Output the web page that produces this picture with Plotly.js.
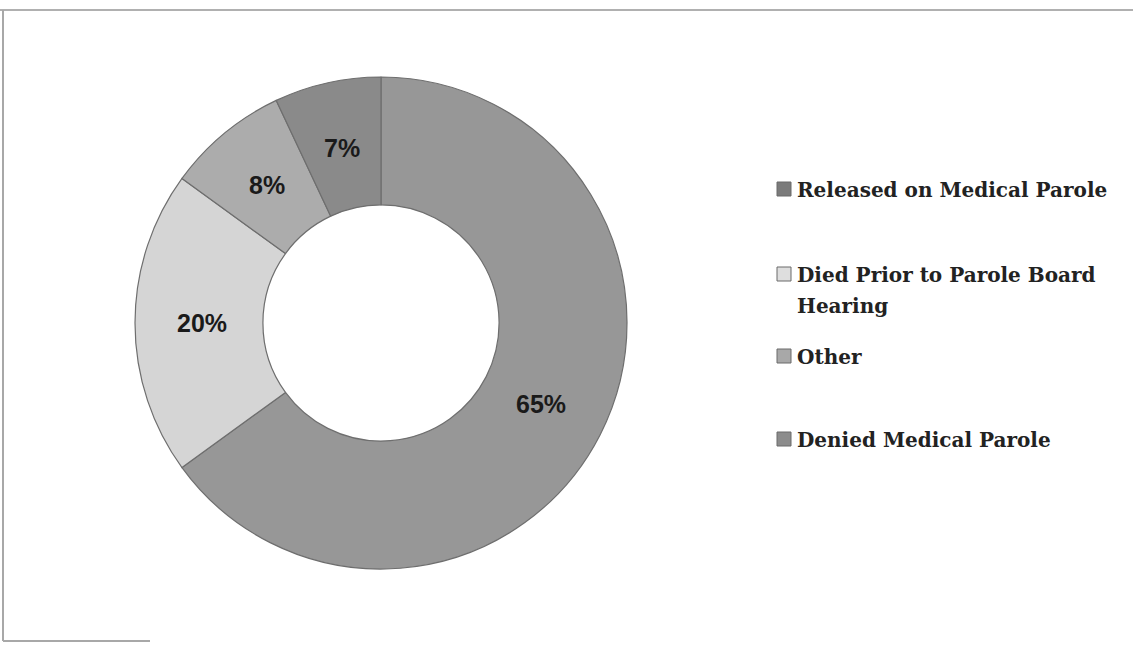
<!DOCTYPE html>
<html>
<head>
<meta charset="utf-8">
<script src="https://cdn.plot.ly/plotly-3.0.1.min.js"></script>
<style>html,body{margin:0;padding:0;background:#fff;}#chart{width:1133px;height:647px;}</style>
</head>
<body>
<div id="chart"></div>
<script>
// Slices in clockwise order starting at 12 o'clock
var sliceLabels = ["Denied Medical Parole", "Died Prior to Parole Board Hearing", "Other", "Released on Medical Parole"];
var sliceValues = [65, 20, 8, 7];
var sliceColors = ["#979797", "#d5d5d5", "#acacac", "#8a8a8a"];

// Legend order as shown in the reference
var legendLabels = ["Released on Medical Parole", "Died Prior to Parole Board", "Other", "Denied Medical Parole"];
var legendExtraLine = ["", "Hearing", "", ""];
var legendColors = ["#7b7b7b", "#dedede", "#a8a8a8", "#8c8c8c"];
var legendY = [190, 275, 357, 440];

var W = 1133, H = 647;
function px(x){return x / W;}
function py(y){return 1 - y / H;}

var cx = 381, cy = 323, R = 246, HOLE = 0.48;

var trace = {
  type: "pie",
  labels: sliceLabels,
  values: sliceValues,
  sort: false,
  direction: "clockwise",
  rotation: 0,
  hole: HOLE,
  marker: {colors: sliceColors, line: {color: "#6e6e6e", width: 1.2}},
  textinfo: "none",
  domain: {x: [px(cx - R), px(cx + R)], y: [py(cy + R), py(cy - R)]},
  showlegend: false,
  hoverinfo: "label+percent"
};

var annotations = [];
var shapes = [];

// percent labels at mid-angle, mid-radius of each slice (derived from values)
var total = sliceValues.reduce(function(a, b){return a + b;}, 0);
var acc = 0;
var rMid = R * (1 + HOLE) / 2 - 3;
for (var k = 0; k < sliceValues.length; k++) {
  var mid = (acc + sliceValues[k] / 2) / total * 2 * Math.PI;
  acc += sliceValues[k];
  var lx = cx + rMid * Math.sin(mid);
  var ly = cy - rMid * Math.cos(mid);
  annotations.push({
    xref: "paper", yref: "paper", x: px(lx), y: py(ly),
    xanchor: "center", yanchor: "middle", showarrow: false,
    text: "<b>" + Math.round(sliceValues[k] / total * 100) + "%</b>",
    font: {family: "Liberation Sans, Arial, sans-serif", size: 25, color: "#1a1a1a"}
  });
}

for (var i = 0; i < legendLabels.length; i++) {
  annotations.push({
    xref: "paper", yref: "paper",
    x: px(795), y: py(legendY[i]),
    xanchor: "left", yanchor: "middle", align: "left",
    showarrow: false,
    text: "<b>" + legendLabels[i] + "</b>",
    font: {family: "DejaVu Serif, serif", size: 20, color: "#222222"}
  });
  if (legendExtraLine[i]) {
    annotations.push({
      xref: "paper", yref: "paper",
      x: px(795), y: py(legendY[i] + 31),
      xanchor: "left", yanchor: "middle", align: "left",
      showarrow: false,
      text: "<b>" + legendExtraLine[i] + "</b>",
      font: {family: "DejaVu Serif, serif", size: 20, color: "#222222"}
    });
  }
  shapes.push({
    type: "rect", xref: "paper", yref: "paper",
    x0: px(777), x1: px(791), y0: py(legendY[i] + 6), y1: py(legendY[i] - 8),
    fillcolor: legendColors[i], line: {color: "#6a6a6a", width: 1}
  });
}
// scan frame lines
shapes.push({type: "line", xref: "paper", yref: "paper", x0: 0, x1: 1, y0: py(10), y1: py(10), line: {color: "#b0b0b0", width: 2}});
shapes.push({type: "line", xref: "paper", yref: "paper", x0: px(3), x1: px(3), y0: py(10), y1: py(641), line: {color: "#a8a8a8", width: 2}});
shapes.push({type: "line", xref: "paper", yref: "paper", x0: px(3), x1: px(150), y0: py(641), y1: py(641), line: {color: "#a8a8a8", width: 2}});

var layout = {
  width: W, height: H,
  margin: {l: 0, r: 0, t: 0, b: 0},
  paper_bgcolor: "#ffffff",
  showlegend: false,
  annotations: annotations,
  shapes: shapes
};

Plotly.newPlot("chart", [trace], layout, {displayModeBar: false, staticPlot: true});
</script>
</body>
</html>
